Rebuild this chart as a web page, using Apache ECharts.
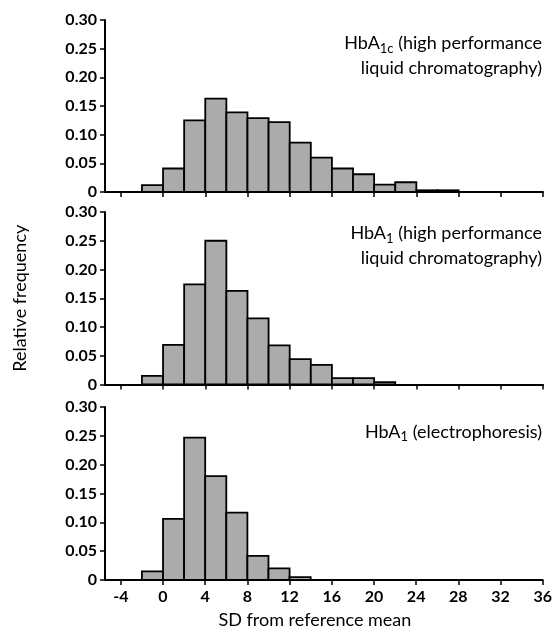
<!DOCTYPE html>
<html>
<head>
<meta charset="utf-8">
<script src="https://cdn.jsdelivr.net/npm/echarts@6/dist/echarts.min.js"></script>
<style>
html,body{margin:0;padding:0;background:#fff}
#main{width:555px;height:630px}
</style>
</head>
<body>
<div id="main"></div>
<script>
// bins are 2 SD wide, value = left edge of bin
var binStart = [-2, 0, 2, 4, 6, 8, 10, 12, 14, 16, 18, 20, 22, 24, 26];
var binWidth = 2;
// relative frequencies
var hplcA1c   = [0.012, 0.041, 0.125, 0.163, 0.139, 0.129, 0.122, 0.086, 0.060, 0.041, 0.031, 0.013, 0.017, 0.003, 0.003];
var hplcA1    = [0.015, 0.069, 0.174, 0.250, 0.163, 0.115, 0.068, 0.044, 0.034, 0.011, 0.011, 0.004];
var electroA1 = [0.015, 0.106, 0.247, 0.180, 0.117, 0.042, 0.020, 0.005];
var xTicks = [-4, 0, 4, 8, 12, 16, 20, 24, 28, 32, 36];

var font = 'Lato';
var gridTops = [20, 212, 407];
var gridHeights = [172, 172.5, 173];

function toBins(vals){
	var out = [];
	for(var i=0;i<vals.length;i++){
		out.push([binStart[i], binStart[i]+binWidth, vals[i]]);
	}
	return out;
}

function renderBar(params, api){
	var p0 = api.coord([api.value(0), 0]);
	var p1 = api.coord([api.value(1), api.value(2)]);
	return {
		type: 'rect',
		shape: {x: p0[0], y: p1[1], width: p1[0]-p0[0], height: p0[1]-p1[1]},
		style: {fill: '#ababab', stroke: '#000', lineWidth: 1.8}
	};
}

var grids = [], xAxes = [], yAxes = [], series = [];
var allData = [hplcA1c, hplcA1, electroA1];
for(var g=0; g<3; g++){
	grids.push({left: 105, right: 12, top: gridTops[g], height: gridHeights[g]});
	xAxes.push({
		type: 'value', gridIndex: g, min: -5.5, max: 36,
		axisLine: {onZero: false, lineStyle: {color: '#000', width: 2}},
		axisTick: {show: true, customValues: xTicks, length: 5, lineStyle: {color: '#000', width: 1.5}},
		axisLabel: {show: g==2, customValues: xTicks, margin: 9, color: '#000', fontFamily: font, fontSize: 16, fontWeight: 'bold'},
		splitLine: {show: false},
		name: g==2 ? 'SD from reference mean' : '',
		nameLocation: 'middle', nameGap: 31,
		nameTextStyle: {color: '#000', fontFamily: font, fontSize: 18, padding: [0, 18, 0, 0]}
	});
	yAxes.push({
		type: 'value', gridIndex: g, min: 0, max: 0.3, interval: 0.05,
		axisLine: {show: true, onZero: false, lineStyle: {color: '#000', width: 2}},
		axisTick: {show: true, length: 5, lineStyle: {color: '#000', width: 1.5}},
		axisLabel: {margin: 8, color: '#000', fontFamily: font, fontSize: 16, fontWeight: 'bold',
			formatter: function(v){ return v===0 ? '0' : v.toFixed(2); }},
		splitLine: {show: false},
		name: g==1 ? 'Relative frequency' : '',
		nameLocation: 'middle', nameGap: 76,
		nameTextStyle: {color: '#000', fontFamily: font, fontSize: 18}
	});
	series.push({
		type: 'custom', xAxisIndex: g, yAxisIndex: g,
		renderItem: renderBar,
		encode: {x: [0, 1], y: 2},
		data: toBins(allData[g])
	});
}

var titleRich = {
	n: {fontFamily: font, fontSize: 18, color: '#000', lineHeight: 25},
	s: {fontFamily: font, fontSize: 13, color: '#000', padding: [10, 0, 0, 0]}
};

var myChart = echarts.init(document.getElementById('main'));
myChart.setOption({
	animation: false,
	grid: grids,
	xAxis: xAxes,
	yAxis: yAxes,
	series: series,
	graphic: [
		{type: 'text', x: 542, y: 56, style: {
			text: '{n|HbA}{s|1c}{n| (high performance}\n{n|liquid chromatography)}',
			rich: titleRich, align: 'right', verticalAlign: 'middle'}},
		{type: 'text', x: 542, y: 246, style: {
			text: '{n|HbA}{s|1}{n| (high performance}\n{n|liquid chromatography)}',
			rich: titleRich, align: 'right', verticalAlign: 'middle'}},
		{type: 'text', x: 542, y: 432, style: {
			text: '{n|HbA}{s|1}{n| (electrophoresis)}',
			rich: titleRich, align: 'right', verticalAlign: 'middle'}}
	]
});
</script>
</body>
</html>
